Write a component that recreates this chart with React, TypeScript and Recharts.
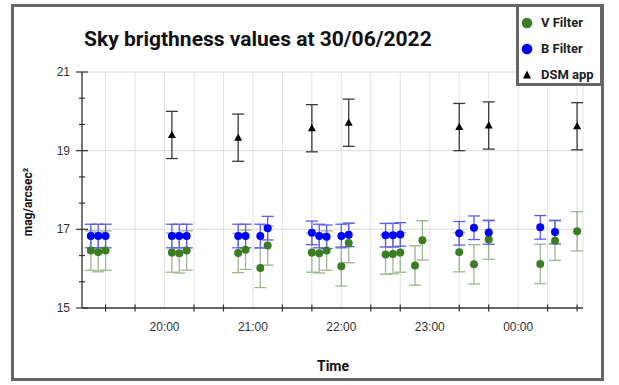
import React from 'react';
import {
  ScatterChart,
  Scatter,
  XAxis,
  YAxis,
  CartesianGrid,
  ErrorBar,
  ReferenceLine,
  Legend,
} from 'recharts';

// Time in minutes after 19:00
const vTimes = [10, 15, 20, 65, 70, 75, 110, 115, 125, 130, 160, 165, 170, 180, 185, 210, 215, 220, 230, 235, 260, 270, 280, 315, 325, 340];
const vValues = [16.46, 16.42, 16.46, 16.41, 16.39, 16.46, 16.40, 16.48, 16.02, 16.59, 16.41, 16.39, 16.46, 16.06, 16.65, 16.36, 16.37, 16.41, 16.08, 16.72, 16.42, 16.11, 16.74, 16.12, 16.71, 16.95];
const vErrors = [0.5, 0.5, 0.5, 0.5, 0.5, 0.5, 0.5, 0.5, 0.5, 0.5, 0.5, 0.5, 0.5, 0.5, 0.5, 0.5, 0.5, 0.5, 0.5, 0.5, 0.5, 0.5, 0.5, 0.5, 0.5, 0.5];

const bTimes = [10, 15, 20, 65, 70, 75, 110, 115, 125, 130, 160, 165, 170, 180, 185, 210, 215, 220, 260, 270, 280, 315, 325];
const bValues = [16.83, 16.83, 16.83, 16.83, 16.83, 16.83, 16.83, 16.83, 16.83, 17.03, 16.91, 16.83, 16.81, 16.83, 16.86, 16.85, 16.85, 16.87, 16.90, 17.04, 16.92, 17.05, 16.93];
const bErrors = [0.3, 0.3, 0.3, 0.3, 0.3, 0.3, 0.3, 0.3, 0.3, 0.3, 0.3, 0.3, 0.3, 0.3, 0.3, 0.3, 0.3, 0.3, 0.3, 0.3, 0.3, 0.3, 0.3];

const dsmTimes = [65, 110, 160, 185, 260, 280, 340];
const dsmValues = [19.40, 19.33, 19.57, 19.71, 19.60, 19.64, 19.62];
const dsmErrors = [0.6, 0.6, 0.6, 0.6, 0.6, 0.6, 0.6];

const seriesNames = ['V Filter', 'B Filter', 'DSM app'];
const seriesColors = ['#3a7d22', '#0000ff', '#000000'];
const errorColors = ['#9db58f', '#5b5bf2', '#3a3a3a'];

const xDomain = [4, 344];
const xTicks = [20, 40, 60, 80, 100, 120, 140, 160, 180, 200, 220, 240, 260, 280, 300, 320, 340];
const hourTicks = [60, 120, 180, 240, 300];
const hourLabels = ['20:00', '21:00', '22:00', '23:00', '00:00'];

const yDomain = [15, 21];
const yTicks = [15, 15 + 2 / 3, 15 + 4 / 3, 17, 17 + 2 / 3, 17 + 4 / 3, 19, 19 + 2 / 3, 19 + 4 / 3, 21];
const yLabelTicks = [15, 17, 19, 21];
const yGridValues = [17, 19, 21];

const title = 'Sky brigthness values at 30/06/2022';
const xTitle = 'Time';
const yTitle = 'mag/arcsec²';

const build = (ts: number[], vs: number[], es: number[]) =>
  ts.map((t, i) => ({ t, v: vs[i], e: es[i] }));

const vData = build(vTimes, vValues, vErrors);
const bData = build(bTimes, bValues, bErrors);
const dsmData = build(dsmTimes, dsmValues, dsmErrors);

const tickFont = '"Liberation Sans", Arial, sans-serif';

const XTick = (props: any) => {
  const { x, y, payload } = props;
  const idx = hourTicks.indexOf(payload.value);
  if (idx >= 0) {
    return (
      <text x={x} y={y + 19} textAnchor="middle" dominantBaseline="central" fontSize={12} fill="#333" fontFamily={tickFont}>
        {hourLabels[idx]}
      </text>
    );
  }
  return <line x1={x} x2={x} y1={y - 3.5} y2={y + 3.5} stroke="#333" strokeWidth={1.2} />;
};

const YTick = (props: any) => {
  const { x, y, payload } = props;
  const val = Math.round(payload.value * 1000) / 1000;
  const labeled = yLabelTicks.includes(val);
  return (
    <g>
      <line x1={x - (labeled ? 6 : 3)} x2={x + (labeled ? 6 : 3)} y1={y} y2={y} stroke="#333" strokeWidth={1.2} />
      {labeled && (
        <text x={x - 12} y={y} textAnchor="end" dominantBaseline="central" fontSize={12} fill="#333" fontFamily={tickFont}>
          {val}
        </text>
      )}
    </g>
  );
};

const makeDot = (color: string) => (props: any) => (
  <circle cx={props.cx} cy={props.cy} r={4} fill={color} />
);

const Tri = (props: any) => {
  const { cx, cy } = props;
  return <path d={`M${cx},${cy - 4.2} L${cx + 4},${cy + 3} L${cx - 4},${cy + 3} Z`} fill="#000" />;
};

const LegendBox = () => (
  <div
    style={{
      width: 87,
      height: 82,
      boxSizing: 'border-box',
      border: '3px solid #666',
      background: '#fff',
      fontFamily: 'Roboto, Arial, sans-serif',
      fontWeight: 700,
      fontSize: 13,
      color: '#222',
      position: 'relative',
    }}
  >
    {seriesNames.map((name, i) => (
      <div
        key={name}
        style={{ position: 'absolute', left: 0, top: 13 + i * 26 - 3, height: 12, display: 'flex', alignItems: 'center' }}
      >
        <svg width={22} height={12} style={{ display: 'block' }}>
          {i < 2 ? (
            <circle cx={8} cy={6} r={5.3} fill={seriesColors[i]} />
          ) : (
            <path d="M8,1.5 L12,9.5 L4,9.5 Z" fill="#000" />
          )}
        </svg>
        <span style={{ lineHeight: '12px' }}>{name}</span>
      </div>
    ))}
  </div>
);

export default function App() {
  return (
    <div style={{ position: 'absolute', left: 0, top: 0, width: 619, height: 385, background: '#fff', overflow: 'hidden' }}>
      <div
        style={{
          position: 'absolute',
          left: 11,
          top: 4,
          width: 593,
          height: 377,
          boxSizing: 'border-box',
          border: '3px solid #666',
        }}
      />
      <div
        style={{
          position: 'absolute',
          left: 84,
          top: 29,
          fontFamily: 'Roboto, Arial, sans-serif',
          fontWeight: 700,
          fontSize: 21,
          lineHeight: '21px',
          color: '#111',
          whiteSpace: 'nowrap',
        }}
      >
        {title}
      </div>
      <div
        style={{
          position: 'absolute',
          left: 333,
          top: 366,
          transform: 'translate(-50%, -50%)',
          fontFamily: 'Roboto, Arial, sans-serif',
          fontWeight: 700,
          fontSize: 14,
          lineHeight: '14px',
          color: '#111',
        }}
      >
        {xTitle}
      </div>
      <div
        style={{
          position: 'absolute',
          left: 28,
          top: 202,
          transform: 'translate(-50%, -50%) rotate(-90deg)',
          fontFamily: 'Roboto, Arial, sans-serif',
          fontWeight: 700,
          fontSize: 12,
          lineHeight: '12px',
          color: '#111',
          whiteSpace: 'nowrap',
        }}
      >
        {yTitle}
      </div>
      <div style={{ position: 'absolute', left: 0, top: 0 }}>
        <ScatterChart width={619} height={385} margin={{ top: 72, right: 36, bottom: 37, left: 22 }}>
          <CartesianGrid horizontal={false} vertical stroke="#e2e2e2" />
          {yGridValues.map((g) => (
            <ReferenceLine key={g} y={g} stroke="#dcdcdc" ifOverflow="extendDomain" />
          ))}
          <XAxis
            dataKey="t"
            type="number"
            domain={xDomain}
            ticks={xTicks}
            interval={0}
            height={40}
            tickSize={0}
            tickMargin={0}
            tickLine={false}
            axisLine={{ stroke: '#333', strokeWidth: 1.3 }}
            tick={<XTick />}
            allowDataOverflow
          />
          <YAxis
            dataKey="v"
            type="number"
            domain={yDomain}
            ticks={yTicks}
            interval={0}
            width={60}
            tickSize={0}
            tickMargin={0}
            tickLine={false}
            axisLine={{ stroke: '#333', strokeWidth: 1.3 }}
            tick={<YTick />}
            allowDataOverflow
          />
          <Legend
            layout="horizontal"
            verticalAlign="middle"
            align="center"
            content={<LegendBox />}
            wrapperStyle={{ position: 'absolute', left: 516, top: 4, width: 87, height: 82 }}
          />
          <Scatter name={seriesNames[0]} data={vData} fill={seriesColors[0]} shape={makeDot(seriesColors[0])} isAnimationActive={false}>
            <ErrorBar dataKey="e" direction="y" width={6} stroke={errorColors[0]} strokeWidth={1.3} />
          </Scatter>
          <Scatter name={seriesNames[1]} data={bData} fill={seriesColors[1]} shape={makeDot(seriesColors[1])} isAnimationActive={false}>
            <ErrorBar dataKey="e" direction="y" width={6} stroke={errorColors[1]} strokeWidth={1.3} />
          </Scatter>
          <Scatter name={seriesNames[2]} data={dsmData} fill={seriesColors[2]} shape={Tri} isAnimationActive={false}>
            <ErrorBar dataKey="e" direction="y" width={6} stroke={errorColors[2]} strokeWidth={1.3} />
          </Scatter>
        </ScatterChart>
      </div>
    </div>
  );
}
